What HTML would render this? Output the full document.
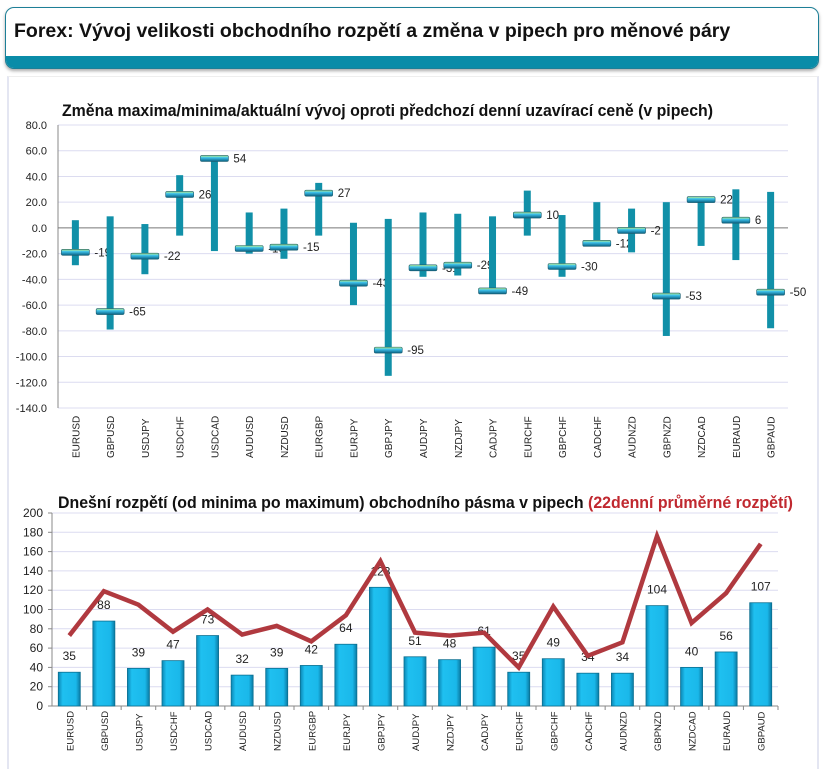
<!DOCTYPE html>
<html><head><meta charset="utf-8">
<style>
body{margin:0;width:826px;height:768px;background:#fff;font-family:"Liberation Sans",sans-serif;overflow:hidden;position:relative}
#hdr{position:absolute;left:5px;top:7px;width:812px;height:60px;border:1.5px solid #1d7f97;border-radius:9px;overflow:hidden;background:#fff;box-shadow:0 2px 3px #aaa}
#hdr .t{position:absolute;left:8px;top:12px;font-size:19.5px;font-weight:bold;color:#111}
#hdr .bar{position:absolute;left:0;right:0;bottom:0;height:12px;background:#0a8ca8}
#panel{position:absolute;left:7px;top:76px;width:808px;height:692px;border-left:2px solid #e4e6f2;border-right:2px solid #e4e6f2;border-top:1px solid #eee}
svg{position:absolute;left:0;top:0}
</style></head><body>
<div id="hdr"><div class="t">Forex: Vývoj velikosti obchodního rozpětí a změna v pipech pro měnové páry</div><div class="bar"></div></div>
<div id="panel"></div>
<svg id="c" width="826" height="768"></svg>
<script>
const pairs=["EURUSD","GBPUSD","USDJPY","USDCHF","USDCAD","AUDUSD","NZDUSD","EURGBP","EURJPY","GBPJPY","AUDJPY","NZDJPY","CADJPY","EURCHF","GBPCHF","CADCHF","AUDNZD","GBPNZD","NZDCAD","EURAUD","GBPAUD"];
const highs=[6,9,3,41,54,12,15,35,4,7,12,11,9,29,10,20,15,20,24,30,28];
const lows=[-29,-79,-36,-6,-18,-20,-24,-6,-60,-115,-38,-37,-51,-6,-38,-12,-19,-84,-14,-25,-78];
const current=[-19,-65,-22,26,54,-16,-15,27,-43,-95,-31,-29,-49,10,-30,-12,-2,-53,22,6,-50];
const topTicks=[80,60,40,20,0,-20,-40,-60,-80,-100,-120,-140];
const ranges=[35,88,39,47,73,32,39,42,64,123,51,48,61,35,49,34,34,104,40,56,107];
const avg22=[73,119,105,77,100,74,83,67,94,150,76,73,76,40,103,52,66,176,86,117,168];
const botTicks=[0,20,40,60,80,100,120,140,160,180,200];
const svg=document.getElementById('c');const NS="http://www.w3.org/2000/svg";
function mk(t,a,p){const e=document.createElementNS(NS,t);for(const k in a)e.setAttribute(k,a[k]);(p||svg).appendChild(e);return e;}
const defs=mk('defs',{});
defs.innerHTML='<linearGradient id="bg" x1="0" x2="1"><stop offset="0" stop-color="#0b86b3"/><stop offset="0.2" stop-color="#1fc0f0"/><stop offset="0.8" stop-color="#1ab8ea"/><stop offset="1" stop-color="#0a7aa3"/></linearGradient><linearGradient id="mg" x1="0" y1="0" x2="0" y2="1"><stop offset="0" stop-color="#c8f07a"/><stop offset="0.35" stop-color="#3fc4ee"/><stop offset="1" stop-color="#0a5f80"/></linearGradient>';
// top chart
const T={l:58,r:788,top:125,bot:408,min:-140,max:80};
const ty=v=>T.top+(T.max-v)*(T.bot-T.top)/(T.max-T.min);
const tw=(T.r-T.l)/pairs.length;const tx=i=>T.l+tw*(i+0.5);
let t=mk('text',{x:62,y:116,'font-size':'16.2','font-weight':'bold',fill:'#111',textLength:651,lengthAdjust:'spacingAndGlyphs'});t.textContent="Změna maxima/minima/aktuální vývoj oproti předchozí denní uzavírací ceně (v pipech)";

topTicks.forEach(v=>{const y=ty(v);
 if(v!==0){const g=mk('line',{x1:T.l,x2:T.r,y1:y,y2:y,stroke:'#dcdcf0','stroke-width':1});}
 const l=mk('text',{x:47,y:y+4,'font-size':'11','text-anchor':'end',fill:'#222'});l.textContent=v.toFixed(1);
 });
let a=mk('line',{x1:T.l,x2:T.l,y1:T.top,y2:T.bot,stroke:'#888'});
a=mk('line',{x1:T.l,x2:T.r,y1:ty(0),y2:ty(0),stroke:'#777'});
pairs.forEach((p,i)=>{const x=tx(i);
 const b=mk('rect',{x:x-3.5,y:ty(highs[i]),width:7,height:ty(lows[i])-ty(highs[i]),fill:'#1190a8'});
 
 const m=mk('rect',{x:x-14,y:ty(current[i])-3,width:28,height:6,rx:1.5,fill:'url(#mg)',stroke:'#1a5d70','stroke-width':0.6});
 
 const l=mk('text',{x:x+19,y:ty(current[i])+4,'font-size':'11.5',fill:'#222'});l.textContent=current[i];
 
 const c=mk('text',{transform:`translate(${x+4},${458}) rotate(-90)`,'font-size':'10',fill:'#222'});c.textContent=p;
 });
// bottom chart
const B={l:52,r:778,top:513,bot:706,min:0,max:200};
const by=v=>B.bot-(v-B.min)*(B.bot-B.top)/(B.max-B.min);
const bw=(B.r-B.l)/pairs.length;const bx=i=>B.l+bw*(i+0.5);
t=mk('text',{x:58,y:508,'font-size':'16.2','font-weight':'bold',fill:'#111',textLength:735,lengthAdjust:'spacingAndGlyphs'});t.innerHTML='Dnešní rozpětí (od minima po maximum) obchodního pásma v pipech <tspan fill="#c0282f">(22denní průměrné rozpětí)</tspan>';

botTicks.forEach(v=>{const y=by(v);
 if(v>0){const g=mk('line',{x1:B.l,x2:B.r,y1:y,y2:y,stroke:'#dcdcf0'});}
 const k=mk('line',{x1:B.l-4,x2:B.l,y1:y,y2:y,stroke:'#888'});
 const l=mk('text',{x:43,y:y+4,'font-size':'12','text-anchor':'end',fill:'#222'});l.textContent=v;
 });
a=mk('line',{x1:B.l,x2:B.l,y1:B.top,y2:B.bot,stroke:'#888'});
a=mk('line',{x1:B.l,x2:B.r,y1:B.bot,y2:B.bot,stroke:'#888'});
pairs.forEach((p,i)=>{const x=bx(i);
 const k=mk('line',{x1:B.l+bw*(i+1),x2:B.l+bw*(i+1),y1:B.bot,y2:B.bot+4,stroke:'#888'});
 const r=mk('rect',{x:x-11,y:by(ranges[i]),width:22,height:B.bot-by(ranges[i]),fill:'url(#bg)',stroke:'#0b6f90','stroke-width':0.8});
 
 const l=mk('text',{x:x,y:by(ranges[i])-12,'font-size':'12','text-anchor':'middle',fill:'#222'});l.textContent=ranges[i];
 
 const c=mk('text',{transform:`translate(${x+4},${751}) rotate(-90)`,'font-size':'9.5',fill:'#222'});c.textContent=p;
 });
const ln=mk('polyline',{points:avg22.map((v,i)=>bx(i)+','+by(v)).join(' '),fill:'none',stroke:'#b0393f','stroke-width':4.5,'stroke-linejoin':'miter'});

</script>
</body></html>
